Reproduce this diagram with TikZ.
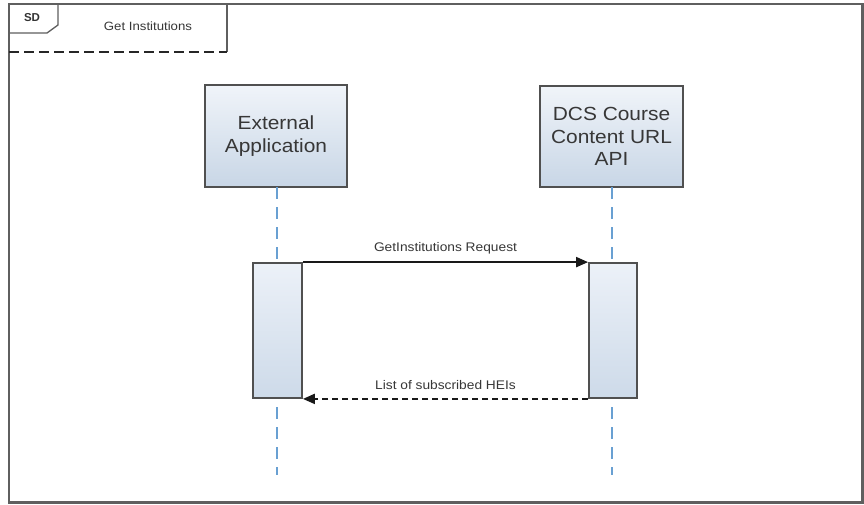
\documentclass[tikz,border=0pt]{standalone}
\usepackage{fontspec}
\setmainfont{Liberation Sans}
\newfontfamily\widefont[FakeStretch=1.1]{Liberation Sans}
\usetikzlibrary{arrows.meta}
\definecolor{framegray}{RGB}{95,95,95}
\definecolor{boxgray}{RGB}{80,80,80}
\definecolor{txtgray}{RGB}{55,55,55}
\definecolor{lifeblue}{RGB}{105,160,210}
\definecolor{boxtop}{RGB}{240,244,249}
\definecolor{boxbot}{RGB}{200,214,230}
\definecolor{acttop}{RGB}{236,241,248}
\definecolor{actbot}{RGB}{205,218,233}
\tikzset{
  participant/.style={draw=boxgray, line width=2pt, top color=boxtop, bottom color=boxbot,
    minimum width=142pt, minimum height=102pt, inner sep=0pt, align=center,
    text=txtgray, font=\widefont\fontsize{19}{22.5}\selectfont},
  activation/.style={draw=boxgray, line width=1.8pt, top color=acttop, bottom color=actbot,
    minimum width=49pt, minimum height=135pt, inner sep=0pt},
  lifeline/.style={draw=lifeblue, line width=2pt, dash pattern=on 12pt off 8pt},
  msg/.style={draw=black!90, line width=2pt, -{Triangle[length=12pt,width=10pt]}},
  reply/.style={msg, dash pattern=on 6pt off 4pt},
  msglabel/.style={text=txtgray, font=\widefont\fontsize{12.5}{14}\selectfont, inner sep=0pt},
}
\begin{document}
\begin{tikzpicture}[x=1pt,y=-1pt]
\useasboundingbox (0,0) rectangle (864,504);
\fill[white] (0,0) rectangle (864,504);
% outer frame
\draw[framegray, line width=2.5pt] (9,4) rectangle (862.5,502.5);
% header tab
\draw[framegray, line width=2pt] (227,4) -- (227,52);
\draw[black!85, line width=2.6pt, dash pattern=on 10pt off 5pt] (9,52) -- (227,52);
\draw[framegray, line width=1.3pt] (58,4) -- (58,25) -- (47,33) -- (9,33);
\node[font=\bfseries\fontsize{11.5}{13}\selectfont, text=black!80, inner sep=0pt] (sd) at (32,18) {SD};
\node[font=\widefont\fontsize{12}{14}\selectfont, text=txtgray, inner sep=0pt] (title) at (148,26) {Get Institutions};
% participants
\node[participant] (ext) at (276,136) {External\\Application};
\node[participant, minimum width=143pt, minimum height=101pt] (dcs) at (611.5,136.5) {DCS Course\\Content URL\\API};
% lifelines
\coordinate (extend) at (277,475);
\coordinate (dcsend) at (612,475);
\coordinate (exttop) at (277,187);
\coordinate (dcstop) at (612,187);
\draw[lifeline] (exttop) -- (extend);
\draw[lifeline] (dcstop) -- (dcsend);
% activations
\node[activation] (act1) at (277.5,330.5) {};
\node[activation, minimum width=48pt] (act2) at (613,330.5) {};
% messages
\draw[msg] (act1.north east) -- node[msglabel, above=7pt] (m1) {GetInstitutions Request} (act2.north west);
\draw[reply] (act2.south west) -- node[msglabel, above=8pt] (m2) {List of subscribed HEIs} (act1.south east);
\end{tikzpicture}
\end{document}
